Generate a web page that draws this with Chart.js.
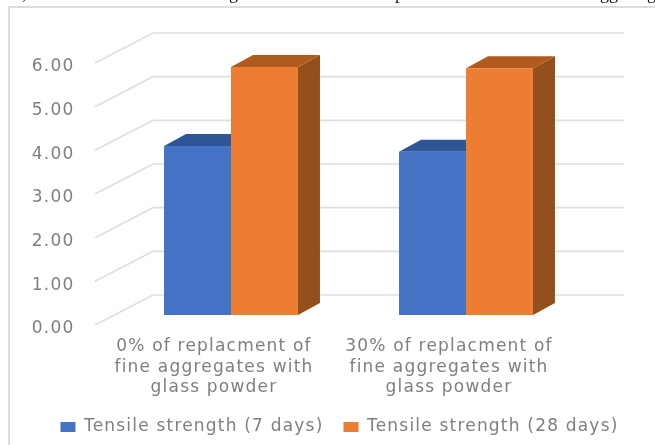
<!DOCTYPE html>
<html>
<head>
<meta charset="utf-8">
<style>
  html, body { margin: 0; padding: 0; background: #fff; }
  canvas { display: block; }
</style>
<script src="https://cdn.jsdelivr.net/npm/chart.js@4"></script>
</head>
<body>
<canvas id="chart" width="655" height="445"></canvas>
<script>
const categories = [
  ["0% of replacment of", "fine aggregates with", "glass powder"],
  ["30% of replacment of", "fine aggregates with", "glass powder"]
];
const strength7Days = [3.87, 3.74];
const strength28Days = [5.68, 5.65];
const seriesNames = ["Tensile strength (7 days)", "Tensile strength (28 days)"];
const captionFragments = [[",", 22], ["g", 229], ["p", 395], ["gg", 600], ["g", 647]];

const FONT = "'DejaVu Sans', sans-serif";
const TEXT = "#7f7f7f";
const TRACKING = "1.2px";
const DEPTH_X = 22;
const DEPTH_Y = 12;
const SHADES = [
  { top: "#2f5597", side: "#2f5597" },
  { top: "#b05a1f", side: "#93501c" }
];

// Wide tracking for every label on the canvas, applied before measuring and drawing
const tracking = {
  id: "tracking",
  beforeLayout(chart) { chart.ctx.letterSpacing = TRACKING; },
  beforeDraw(chart) { chart.ctx.letterSpacing = TRACKING; }
};

// Page frame around the figure and the foot of the running text above it
const frame = {
  id: "frame",
  beforeDraw(chart) {
    const { ctx } = chart;
    ctx.save();
    ctx.strokeStyle = "#dcdcdc";
    ctx.lineWidth = 2;
    ctx.beginPath();
    ctx.moveTo(9, 445);
    ctx.lineTo(9, 7);
    ctx.lineTo(655, 7);
    ctx.stroke();
    ctx.letterSpacing = "0px";
    ctx.fillStyle = "#111";
    ctx.font = "18px 'Liberation Serif', serif";
    ctx.textBaseline = "alphabetic";
    captionFragments.forEach(([s, x]) => ctx.fillText(s, x, -1));
    ctx.restore();
  }
};

// Perspective walls: each gridline runs along the side wall and the back wall
const walls = {
  id: "walls",
  beforeDatasetsDraw(chart) {
    const { ctx, scales } = chart;
    ctx.save();
    ctx.strokeStyle = "#dedede";
    ctx.lineWidth = 1.6;
    scales.y.ticks.forEach(t => {
      const p = scales.y.getPixelForValue(t.value);
      ctx.beginPath();
      ctx.moveTo(95, p + 10);
      ctx.lineTo(153, p - 20);
      ctx.lineTo(624, p - 20);
      ctx.stroke();
    });
    ctx.restore();
  }
};

// Extruded faces behind each bar; the library draws the front faces afterwards
const extrude = {
  id: "extrude",
  beforeDatasetsDraw(chart) {
    const { ctx } = chart;
    const poly = (pts, fill) => {
      ctx.fillStyle = fill;
      ctx.beginPath();
      pts.forEach(([x, y], i) => i ? ctx.lineTo(x, y) : ctx.moveTo(x, y));
      ctx.closePath();
      ctx.fill();
    };
    ctx.save();
    chart.data.datasets.forEach((_, d) => {
      chart.getDatasetMeta(d).data.forEach(bar => {
        const l = bar.x - bar.width / 2, r = bar.x + bar.width / 2;
        const t = bar.y, b = bar.base;
        poly([[r, t], [r + DEPTH_X, t - DEPTH_Y], [r + DEPTH_X, b - DEPTH_Y], [r, b]], SHADES[d].side);
        poly([[l, t], [l + DEPTH_X, t - DEPTH_Y], [r + DEPTH_X, t - DEPTH_Y], [r, t]], SHADES[d].top);
      });
    });
    ctx.restore();
  }
};

new Chart(document.getElementById("chart"), {
  type: "bar",
  data: {
    labels: categories,
    datasets: [
      { label: seriesNames[0], data: strength7Days, backgroundColor: "#4472c4" },
      { label: seriesNames[1], data: strength28Days, backgroundColor: "#ed7d31" }
    ]
  },
  plugins: [tracking, frame, walls, extrude],
  options: {
    responsive: false,
    animation: false,
    layout: { padding: { top: 53, right: 0, bottom: -0.5, left: 24 } },
    datasets: { bar: { categoryPercentage: 0.57, barPercentage: 1 } },
    scales: {
      x: {
        grid: { display: false, drawTicks: false },
        border: { display: false },
        clip: false,
        ticks: {
          color: TEXT,
          font: { family: FONT, size: 17, lineHeight: 1.18 },
          padding: 22,
          labelOffset: -17,
          maxRotation: 0
        },
        afterFit(scale) { scale.height = 83.5; }
      },
      y: {
        min: 0,
        max: 6,
        grid: { display: false, drawTicks: false },
        border: { display: false },
        ticks: {
          stepSize: 1,
          color: TEXT,
          font: { family: FONT, size: 17 },
          padding: 39,
          labelOffset: 14,
          callback: v => v.toFixed(2)
        },
        afterFit(scale) { scale.width = 89.5; }
      },
      // Empty right-hand margin that stops the category band short of the back wall's end
      rightMargin: {
        position: "right",
        min: 0,
        max: 6,
        grid: { display: false, drawTicks: false },
        border: { display: false },
        ticks: { display: false },
        afterFit(scale) { scale.width = 71.5; }
      }
    },
    plugins: {
      title: { display: false },
      tooltip: { enabled: false },
      legend: {
        position: "bottom",
        labels: {
          color: TEXT,
          font: { family: FONT, size: 17 },
          boxWidth: 15,
          boxHeight: 10,
          padding: 20
        }
      }
    }
  }
});
</script>
</body>
</html>
